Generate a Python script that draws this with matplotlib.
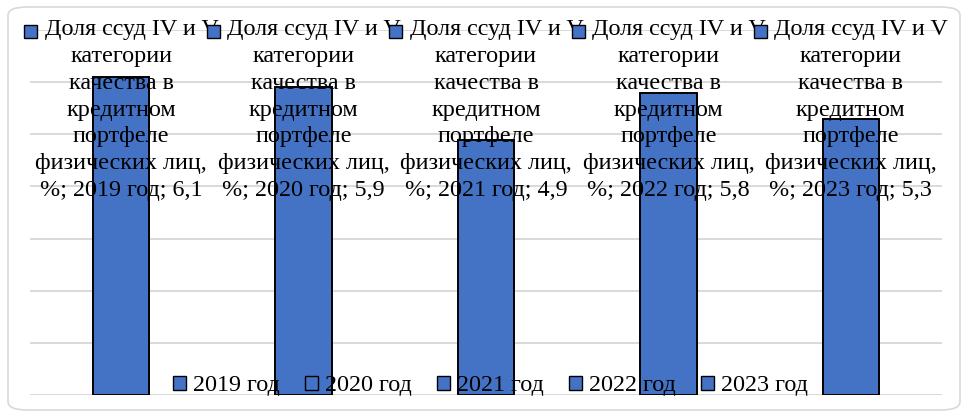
import matplotlib
matplotlib.use("Agg")
import matplotlib.pyplot as plt
from matplotlib.patches import FancyBboxPatch, Patch
from matplotlib.transforms import offset_copy

# ---- data ----
years = ["2019 год", "2020 год", "2021 год", "2022 год", "2023 год"]
values = [6.1, 5.9, 4.9, 5.8, 5.3]
series_lines = ["Доля ссуд IV и V", "категории", "качества в", "кредитном",
                "портфеле", "физических лиц,"]

BLUE = "#4472C4"
GRID = "#d9d9d9"
FS = 17.4

plt.rcParams["font.family"] = ["Liberation Serif", "DejaVu Serif"]

W, H = 961, 413
fig = plt.figure(figsize=(W / 100, H / 100), dpi=100)
fig.patch.set_facecolor("white")

# rounded border around the chart
border = FancyBboxPatch((8 / W, 3 / H), 952 / W, 403 / H,
                        boxstyle="round,pad=0,rounding_size=0.02",
                        transform=fig.transFigure, facecolor="none",
                        edgecolor="#d9d9d9", linewidth=1.2, zorder=-1)
fig.patches.append(border)

ax_l, ax_r = 30 / W, 942 / W
ax_b, ax_t = (H - 395) / H, (H - 30) / H
ax = fig.add_axes([ax_l, ax_b, ax_r - ax_l, ax_t - ax_b])
ax.set_facecolor("none")

x = list(range(len(years)))
ax.bar(x, values, width=0.31, color=BLUE, edgecolor="black", linewidth=1.4, zorder=2)

ax.set_xlim(-0.5, len(years) - 0.5)
ax.set_ylim(0, 7)
ax.set_yticks(range(0, 8))
ax.yaxis.grid(True, color=GRID, linewidth=1.4, zorder=0)
ax.set_axisbelow(True)
ax.tick_params(left=False, bottom=False, labelleft=False, labelbottom=False)
for s in ax.spines.values():
    s.set_visible(False)

# data labels (fixed position block, centred on each bar)
axes_h_px = 395 - 30
axes_w_px = 942 - 30
pitch = 26.7 / axes_h_px
top_line = (395 - 30) / axes_h_px
heads = []
for i, (yr, v) in enumerate(zip(years, values)):
    lines = series_lines + ["%; " + yr + "; " + f"{v:.1f}".replace(".", ",")]
    trans = ax.get_xaxis_transform()
    for j, ln in enumerate(lines):
        if j == 0:
            t = ax.text(i, top_line, ln, ha="center", va="center", fontsize=FS,
                        transform=offset_copy(trans, fig=fig, x=10.5, y=0, units="dots"),
                        zorder=5 + i, clip_on=False)
            heads.append(t)
        else:
            ax.text(i, top_line - j * pitch, ln, ha="center", va="center",
                    fontsize=FS, transform=trans, zorder=5, clip_on=False)

# legend-key squares in front of each label's first line
fig.canvas.draw()
r = fig.canvas.get_renderer()
for i, t in enumerate(heads):
    bb = t.get_window_extent(r)
    cx = bb.x0 - 14
    cy = (bb.y0 + bb.y1) / 2 - 1
    ax.add_patch(plt.Rectangle((cx - 6.5, cy - 6.5), 13, 13, transform=None,
                               facecolor=BLUE, edgecolor="black", linewidth=1.0,
                               zorder=5 + i, clip_on=False))

handles = [Patch(facecolor=BLUE, edgecolor="black", linewidth=1.0) for _ in years]
leg = ax.legend(handles, years, loc="center",
                bbox_to_anchor=(0.5 + 4.5 / axes_w_px, 9 / axes_h_px),
                ncol=5, frameon=False, fontsize=FS, handlelength=0.55,
                handleheight=0.55, handletextpad=0.3, columnspacing=1.02,
                borderpad=0, borderaxespad=0)
leg.set_zorder(10)

fig.savefig("out.png", dpi=100, facecolor="white")
